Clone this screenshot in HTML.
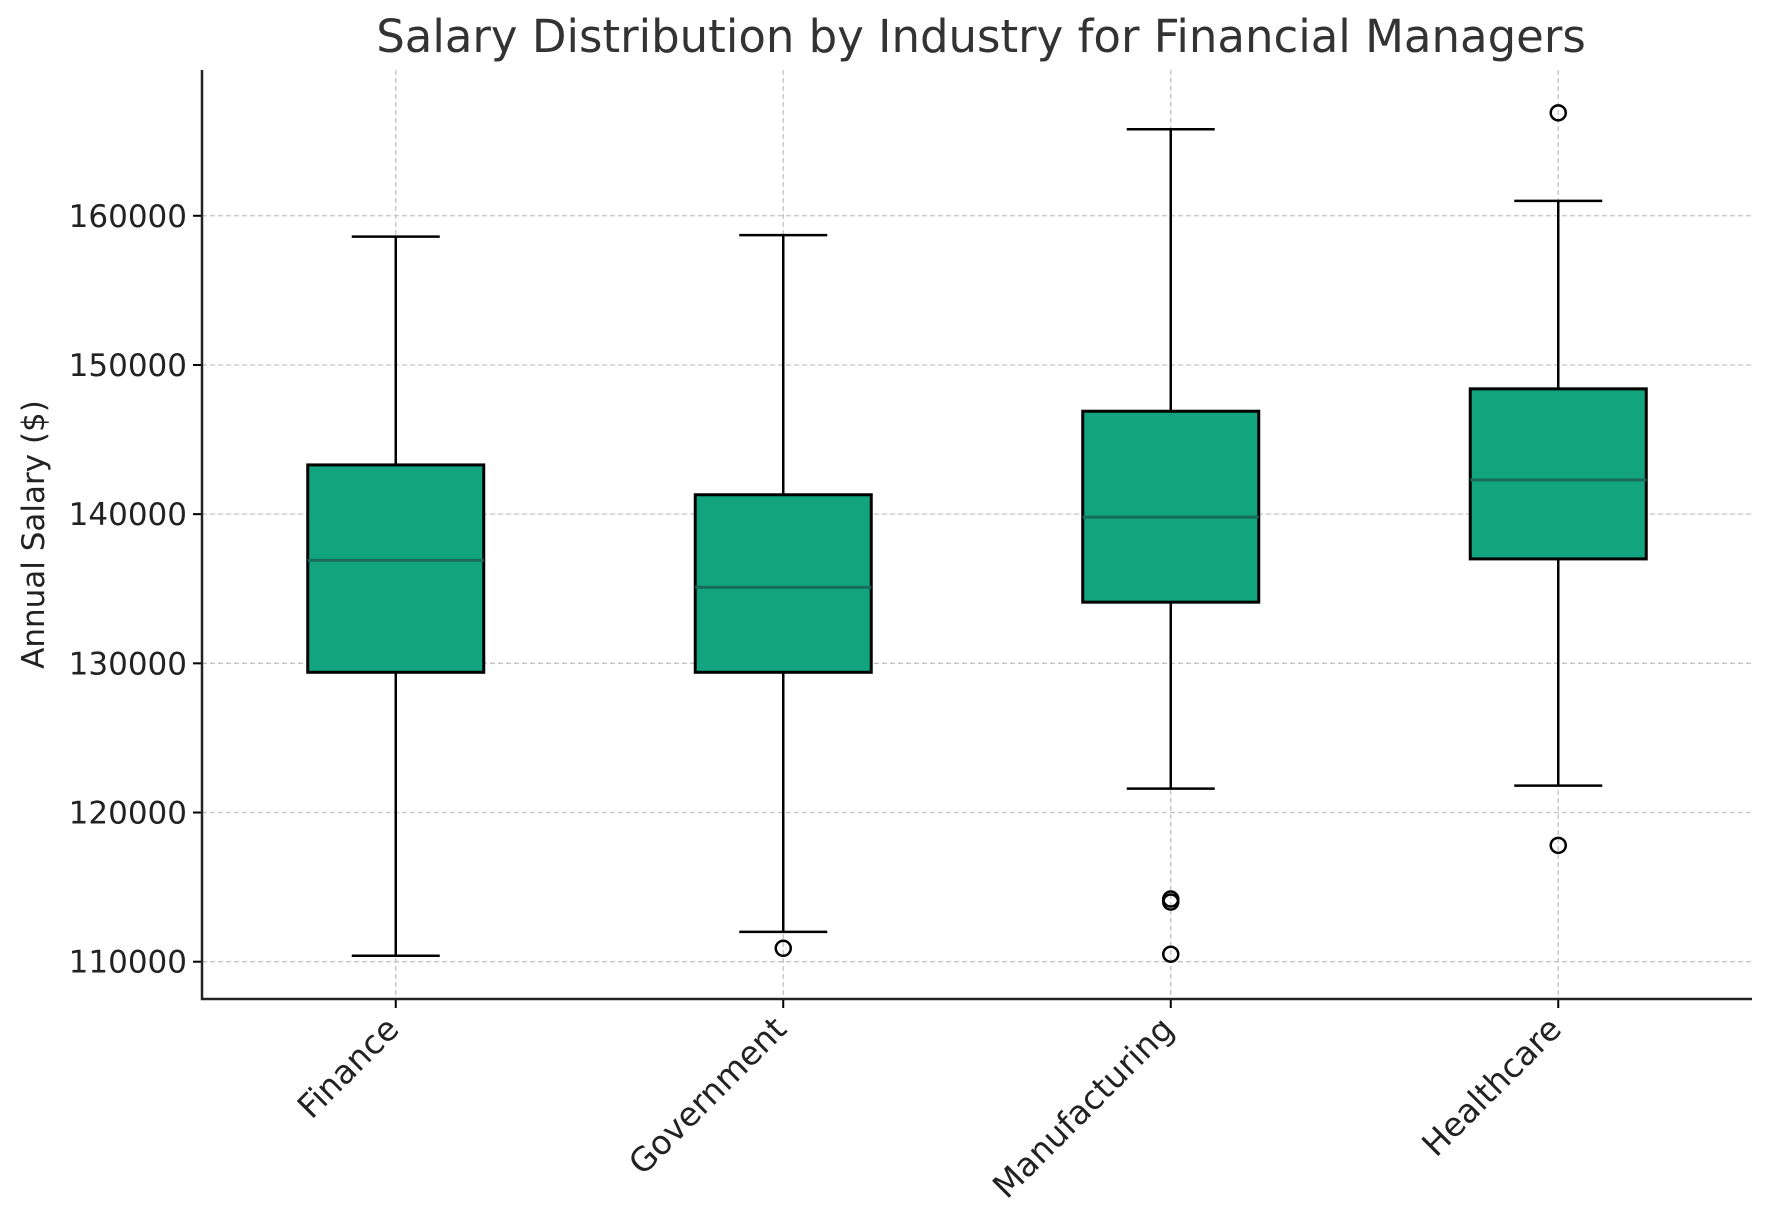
<!DOCTYPE html>
<html><head><meta charset="utf-8"><style>
html,body{margin:0;padding:0;background:#fff;}
svg{display:block;font-family:"DejaVu Sans","Liberation Sans",sans-serif;}
</style></head><body>
<svg id="chart" width="1771" height="1218" viewBox="0 0 1771 1218"></svg>
<script>
const categories = ["Finance","Government","Manufacturing","Healthcare"];
const whiskerLow = [110400,112000,121600,121800];
const q1Values = [129400,129400,134100,137000];
const medians = [136900,135100,139800,142300];
const q3Values = [143300,141300,146900,148400];
const whiskerHigh = [158600,158700,165800,161000];
const outliers = [[],[110900],[114200,114000,110500],[166900,117800]];
const yTicks = [110000,120000,130000,140000,150000,160000];

const L=202,R=1752,T=70,B=999;
const yMin=107500,yMax=169772;
const y=v=>B-(v-yMin)/(yMax-yMin)*(B-T);
const step=(R-L)/categories.length;
const x=i=>L+step*(i+0.5);
const bw=176, cap=88;
const NS="http://www.w3.org/2000/svg";
const svg=document.getElementById('chart');
function mk(tag,attrs,parent){const e=document.createElementNS(NS,tag);for(const k in attrs)e.setAttribute(k,attrs[k]);(parent||svg).appendChild(e);return e;}

yTicks.forEach(t=>{
  const g=mk('line',{x1:L,x2:R,y1:y(t),y2:y(t),stroke:'#c4c4c4','stroke-width':1.3,'stroke-dasharray':'5,3'});
  
  
});
categories.forEach((c,i)=>{
  const g=mk('line',{x1:x(i),x2:x(i),y1:T,y2:B,stroke:'#c4c4c4','stroke-width':1.3,'stroke-dasharray':'5,3'});
  
  
});

categories.forEach((c,i)=>{
  const cx=x(i);
  const grp=mk('g',{});
  
  
  mk('line',{x1:cx,x2:cx,y1:y(whiskerLow[i]),y2:y(q1Values[i]),stroke:'#000','stroke-width':2.5},grp);
  mk('line',{x1:cx,x2:cx,y1:y(q3Values[i]),y2:y(whiskerHigh[i]),stroke:'#000','stroke-width':2.5},grp);
  mk('line',{x1:cx-cap/2,x2:cx+cap/2,y1:y(whiskerLow[i]),y2:y(whiskerLow[i]),stroke:'#000','stroke-width':2.5},grp);
  mk('line',{x1:cx-cap/2,x2:cx+cap/2,y1:y(whiskerHigh[i]),y2:y(whiskerHigh[i]),stroke:'#000','stroke-width':2.5},grp);
  mk('rect',{x:cx-bw/2,y:y(q3Values[i]),width:bw,height:y(q1Values[i])-y(q3Values[i]),fill:'#11a47f',stroke:'#000','stroke-width':3},grp);
  mk('line',{x1:cx-bw/2,x2:cx+bw/2,y1:y(medians[i]),y2:y(medians[i]),stroke:'#1b6b5a','stroke-width':3},grp);
  outliers[i].forEach(v=>{
    const o=mk('circle',{cx:cx,cy:y(v),r:7.5,fill:'none',stroke:'#000','stroke-width':2.5});
    
    
  });
  const tk=mk('line',{x1:cx,x2:cx,y1:B,y2:B+9,stroke:'#000','stroke-width':2});
  
  
  const lb=mk('text',{x:cx+5,y:B+32,'font-size':33,fill:'#222','text-anchor':'end',transform:`rotate(-45 ${cx+5} ${B+32})`});
  lb.textContent=c;
  
  
});

yTicks.forEach(t=>{
  const tk=mk('line',{x1:L-9,x2:L,y1:y(t),y2:y(t),stroke:'#000','stroke-width':2});
  
  
  const lb=mk('text',{x:L-15,y:y(t)+11,'font-size':31,fill:'#222','text-anchor':'end'});
  lb.textContent=t;
  
  
});

const ax=mk('path',{d:`M${L},${T} L${L},${B} L${R},${B}`,fill:'none',stroke:'#222','stroke-width':2.5});



const yt=mk('text',{x:44,y:(T+B)/2,'font-size':31,fill:'#222','text-anchor':'middle',transform:`rotate(-90 44 ${(T+B)/2})`});
yt.textContent='Annual Salary ($)';



const tt=mk('text',{x:981,y:52,'font-size':45,fill:'#333','text-anchor':'middle'});
tt.textContent='Salary Distribution by Industry for Financial Managers';


</script>
</body></html>
